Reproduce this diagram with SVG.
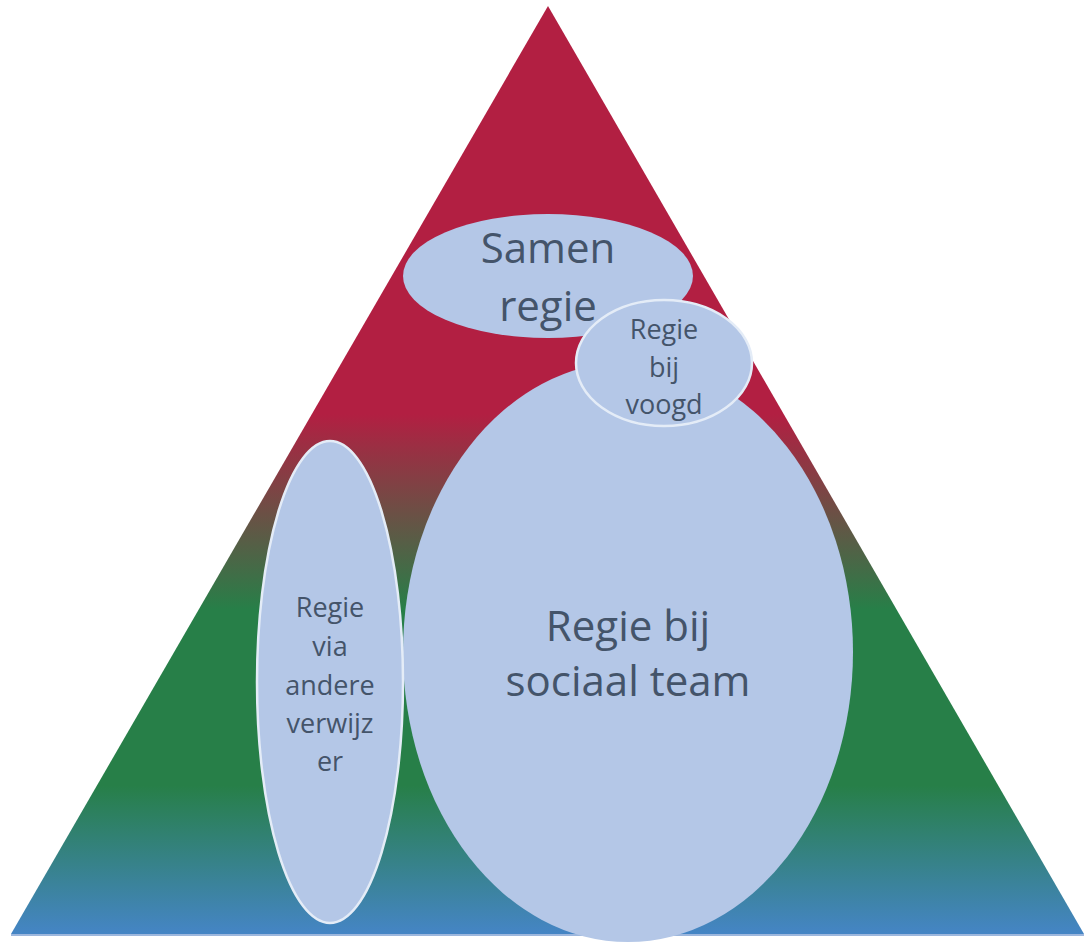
<svg xmlns="http://www.w3.org/2000/svg" width="1084" height="942" viewBox="0 0 1084 942">
<defs>
<linearGradient id="tri" x1="0" y1="6" x2="0" y2="934" gradientUnits="userSpaceOnUse">
<stop offset="0" stop-color="#B21F42"/>
<stop offset="0.44" stop-color="#B21F42"/>
<stop offset="0.65" stop-color="#277F48"/>
<stop offset="0.84" stop-color="#277F48"/>
<stop offset="1" stop-color="#4585C5"/>
</linearGradient>
</defs>
<style>
.node{fill:#B4C7E7;stroke:#E4ECF7;stroke-width:2.5}
.t{font-family:"Open Sans","Noto Sans","Liberation Sans",sans-serif;fill:#44546A;text-anchor:middle}
.big{font-size:42px}
.sm{font-size:27px}
</style>
<g id="triangle">
<polygon points="548,6 11,934 1084,934" fill="url(#tri)"/>
<line x1="11" y1="935" x2="1084" y2="935" stroke="#9DB7DD" stroke-width="2"/>
</g>
<g id="connectors"/>
<g id="samen-regie">
<ellipse cx="548" cy="276" rx="145" ry="62" class="node" style="stroke:none"/>
<text class="t big" x="548" y="263">Samen</text>
<text class="t big" x="548" y="321">regie</text>
</g>
<g id="sociaal-team">
<ellipse cx="628" cy="652" rx="225" ry="290" class="node" style="stroke:none"/>
<text class="t big" x="628" y="641">Regie bij</text>
<text class="t big" x="628" y="696">sociaal team</text>
</g>
<g id="voogd">
<ellipse cx="664" cy="363" rx="88" ry="63" class="node"/>
<text class="t sm" x="664" y="339">Regie</text>
<text class="t sm" x="664" y="377">bij</text>
<text class="t sm" x="664" y="414">voogd</text>
</g>
<g id="verwijzer">
<ellipse cx="330" cy="682" rx="73" ry="241" class="node"/>
<text class="t sm" x="330" y="617">Regie</text>
<text class="t sm" x="330" y="656">via</text>
<text class="t sm" x="330" y="695">andere</text>
<text class="t sm" x="330" y="733">verwijz</text>
<text class="t sm" x="330" y="771">er</text>
</g>
</svg>
